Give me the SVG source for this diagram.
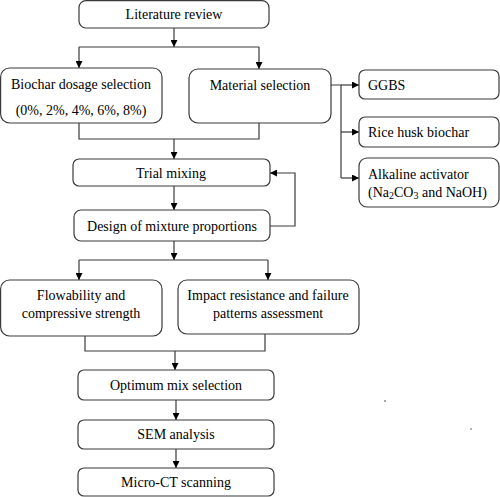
<svg xmlns="http://www.w3.org/2000/svg" width="500" height="497" viewBox="0 0 500 497">
<defs>
<marker id="ah" viewBox="0 0 10 10" refX="10" refY="5" markerWidth="7" markerHeight="7" markerUnits="userSpaceOnUse" orient="auto">
<path d="M0,0 L10,5 L0,10 z" fill="#000"/>
</marker>
</defs>
<style>
.box{fill:#fff;stroke:#3a3a3a;stroke-width:1.2}
.t{font-family:"Liberation Serif","Times New Roman",serif;font-size:14px;fill:#000}
.c{text-anchor:middle}
.ln{fill:none;stroke:#3a3a3a;stroke-width:1.2}
.ar{fill:none;stroke:#3a3a3a;stroke-width:1.2;marker-end:url(#ah)}
</style>
<rect width="500" height="497" fill="#fff"/>
<g id="connectors">
<line class="ar" x1="174" y1="28" x2="174" y2="47"/>
<path class="ln" d="M79,47 H259"/>
<line class="ar" x1="79" y1="47" x2="79" y2="68"/>
<line class="ar" x1="259" y1="47" x2="259" y2="69"/>
<path class="ln" d="M79,123 V139 H259 V123"/>
<line class="ar" x1="174" y1="139" x2="174" y2="159"/>
<path class="ln" d="M331,85 H341 V178"/>
<line class="ar" x1="341" y1="85" x2="359" y2="85"/>
<line class="ar" x1="341" y1="132" x2="359" y2="132"/>
<line class="ar" x1="341" y1="178" x2="359" y2="178"/>
<line class="ar" x1="174" y1="186" x2="174" y2="210"/>
<path class="ar" d="M270,226 H295 V173 H270"/>
<line class="ar" x1="174" y1="241" x2="174" y2="260"/>
<path class="ln" d="M79,260 H268"/>
<line class="ar" x1="79" y1="260" x2="79" y2="280"/>
<line class="ar" x1="268" y1="260" x2="268" y2="280"/>
<path class="ln" d="M85,336 V351 H265 V334"/>
<line class="ar" x1="175" y1="351" x2="175" y2="370"/>
<line class="ar" x1="176" y1="400" x2="176" y2="420"/>
<line class="ar" x1="176" y1="449" x2="176" y2="468"/>
</g>
<g id="n-literature">
<rect class="box" x="79" y="0.6" width="190" height="27.4" rx="7"/>
<text class="t c" x="174" y="19">Literature review</text>
</g>
<g id="n-biochar">
<rect class="box" x="0.6" y="68" width="161.4" height="55" rx="9"/>
<text class="t c" x="81" y="89">Biochar dosage selection</text>
<text class="t c" x="81" y="115">(0%, 2%, 4%, 6%, 8%)</text>
</g>
<g id="n-material">
<rect class="box" x="189" y="69" width="142" height="54" rx="9"/>
<text class="t c" x="260" y="90">Material selection</text>
</g>
<g id="n-ggbs">
<rect class="box" x="359" y="70" width="140" height="29" rx="6"/>
<text class="t" x="368" y="90">GGBS</text>
</g>
<g id="n-rice">
<rect class="box" x="359" y="117" width="140" height="30" rx="6"/>
<text class="t" x="368" y="137">Rice husk biochar</text>
</g>
<g id="n-alkaline">
<rect class="box" x="359" y="158" width="140" height="49" rx="8"/>
<text class="t" x="368" y="179">Alkaline activator</text>
<text class="t" x="368" y="197">(Na<tspan font-size="10" dy="2">2</tspan><tspan dy="-2">CO</tspan><tspan font-size="10" dy="2">3</tspan><tspan dy="-2"> and NaOH)</tspan></text>
</g>
<g id="n-trial">
<rect class="box" x="73" y="159" width="197" height="27" rx="6"/>
<text class="t c" x="171" y="178">Trial mixing</text>
</g>
<g id="n-design">
<rect class="box" x="74" y="210" width="196" height="31" rx="7"/>
<text class="t c" x="172" y="231">Design of mixture proportions</text>
</g>
<g id="n-flow">
<rect class="box" x="0.6" y="280" width="161.4" height="56" rx="9"/>
<text class="t c" x="81" y="300">Flowability and</text>
<text class="t c" x="81" y="318">compressive strength</text>
</g>
<g id="n-impact">
<rect class="box" x="178" y="280" width="181" height="54" rx="9"/>
<text class="t c" x="268" y="300">Impact resistance and failure</text>
<text class="t c" x="268" y="318">patterns assessment</text>
</g>
<g id="n-optimum">
<rect class="box" x="78" y="370" width="196" height="30" rx="6"/>
<text class="t c" x="176" y="390">Optimum mix selection</text>
</g>
<g id="n-sem">
<rect class="box" x="78" y="420" width="196" height="29" rx="6"/>
<text class="t c" x="176" y="439">SEM analysis</text>
</g>
<g id="n-microct">
<rect class="box" x="78" y="468" width="196" height="28" rx="6"/>
<text class="t c" x="176" y="487">Micro-CT scanning</text>
</g>
<circle cx="385" cy="401" r="0.8" fill="#333"/>
<circle cx="471" cy="429" r="0.7" fill="#333"/>
</svg>
